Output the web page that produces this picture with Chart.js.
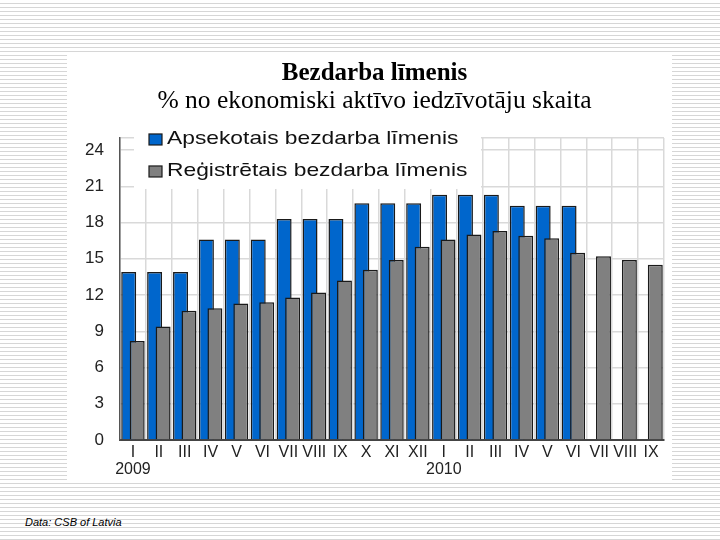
<!DOCTYPE html>
<html>
<head>
<meta charset="utf-8">
<script src="https://cdn.jsdelivr.net/npm/chart.js@4"></script>
<style>
  html, body { margin: 0; padding: 0; }
  body {
    width: 720px; height: 540px; position: relative; overflow: hidden;
    background: repeating-linear-gradient(to bottom, #ffffff 0px, #ffffff 3px, #d6d6d6 3px, #d6d6d6 4px);
  }
  #panel { position: absolute; left: 67px; top: 52px; width: 605px; height: 431px; background: #fff; }
  #source { position: absolute; left: 25px; top: 516px; font: italic 11px "Liberation Sans", Arial, sans-serif; color: #000; }
</style>
</head>
<body>
<div id="panel"><canvas id="chart" width="605" height="431"></canvas></div>
<div id="source">Data: CSB of Latvia</div>
<script>
// mēneši (2009 I – 2010 IX)
var months = ['I', 'II', 'III', 'IV', 'V', 'VI', 'VII', 'VIII', 'IX', 'X', 'XI', 'XII',
              'I', 'II', 'III', 'IV', 'V', 'VI', 'VII', 'VIII', 'IX'];
var years = ['2009', '', '', '', '', '', '', '', '', '', '', '',
             '2010', '', '', '', '', '', '', '', ''];
// Apsekotais bezdarba līmenis (ceturkšņa dati)
var surveyed = [13.9, 13.9, 13.9, 16.6, 16.6, 16.6, 18.3, 18.3, 18.3, 19.6, 19.6, 19.6,
                20.3, 20.3, 20.3, 19.4, 19.4, 19.4, null, null, null];
// Reģistrētais bezdarba līmenis
var registered = [8.2, 9.4, 10.7, 10.9, 11.3, 11.4, 11.8, 12.2, 13.2, 14.1, 14.9, 16.0,
                  16.6, 17.0, 17.3, 16.9, 16.7, 15.5, 15.2, 14.9, 14.5];
// y ass iedaļas (augšējā 25 ir tikai rāmja līnija, bez uzraksta)
var yTicks = [0, 3, 6, 9, 12, 15, 18, 21, 24, 25];

var labels = months.map(function (m, i) { return years[i] ? [m, years[i]] : m; });

var sans = '"Liberation Sans", Arial, sans-serif';
var serif = '"Liberation Serif", "Times New Roman", serif';

// legenda grafika iekšpusē + stabiņu zīmēšanas secība
var insideLegend = {
    id: 'insideLegend',
    beforeDatasetsDraw(chart) {
        const ctx = chart.ctx;
        const a = chart.chartArea;
        ctx.save();
        ctx.fillStyle = '#fff';
        ctx.fillRect(a.left + 14, a.top - 2, 347, 53);
        ctx.restore();
        // pelēkie stabiņi jāzīmē virs zilajiem
        chart.getSortedVisibleDatasetMetas().forEach(function (m) { m.controller.draw(); });
        return false;
    },
    afterDraw(chart) {
        const ctx = chart.ctx;
        const a = chart.chartArea;
        ctx.save();
        ctx.font = '19px ' + sans;
        ctx.textBaseline = 'middle';
        chart.data.datasets.forEach(function (ds, i) {
            const y = a.top + 1 + i * 32;
            ctx.fillStyle = ds.backgroundColor;
            ctx.strokeStyle = ds.borderColor;
            ctx.lineWidth = 1.2;
            ctx.fillRect(a.left + 29, y - 5, 13, 11);
            ctx.strokeRect(a.left + 29, y - 5, 13, 11);
            ctx.save();
            ctx.translate(a.left + 47, y);
            ctx.scale(1.2, 1);
            ctx.fillStyle = '#111';
            ctx.fillText(ds.label, 0, 0);
            ctx.restore();
        });
        ctx.restore();
    }
};

var ctx = document.getElementById('chart').getContext('2d');
var chart = new Chart(ctx, {
    type: 'bar',
    data: {
        labels: labels,
        datasets: [
            {
                label: 'Apsekotais bezdarba līmenis',
                data: surveyed,
                backgroundColor: '#0066cc',
                borderColor: '#1a1a1a',
                borderWidth: 1.5,
            },
            {
                label: 'Reģistrētais bezdarba līmenis',
                data: registered,
                backgroundColor: '#808080',
                borderColor: '#1a1a1a',
                borderWidth: 1.5,
            },
        ],
    },
    options: {
        responsive: false,
        animation: false,
        categoryPercentage: 0.656,
        barPercentage: 1.76,
        layout: { padding: { left: 18, right: 8, top: 0, bottom: 0 } },
        plugins: {
            legend: { display: false },
            tooltip: { enabled: false },
            title: {
                display: true,
                text: 'Bezdarba līmenis',
                color: '#000',
                font: { family: serif, size: 25, weight: 'bold', lineHeight: 1.1 },
                padding: { top: 8, bottom: 0 },
            },
            subtitle: {
                display: true,
                text: '% no ekonomiski aktīvo iedzīvotāju skaita',
                color: '#000',
                font: { family: serif, size: 25.5, lineHeight: 1.05 },
                padding: { top: 0, bottom: 23.7 },
            },
        },
        scales: {
            x: {
                grid: { color: '#d9d9d9', lineWidth: 1.5, drawTicks: false },
                border: { color: '#444', width: 2 },
                ticks: {
                    color: '#222',
                    font: { family: sans, size: 16, lineHeight: 1.05 },
                    padding: 4,
                    autoSkip: false,
                    maxRotation: 0,
                },
                afterFit(s) { s.height = 43; },
            },
            y: {
                min: 0,
                max: 25,
                grid: { color: '#d9d9d9', lineWidth: 1.5, drawTicks: false },
                border: { color: '#555', width: 1.5 },
                ticks: {
                    color: '#222',
                    font: { family: sans, size: 17 },
                    padding: 16,
                    callback: function (v) { return v > 24 ? '' : v; },
                },
                afterBuildTicks(s) { s.ticks = yTicks.map(function (v) { return { value: v }; }); },
                afterFit(s) { s.width = 35; },
            },
        },
    },
    plugins: [insideLegend],
});
</script>
</body>
</html>
